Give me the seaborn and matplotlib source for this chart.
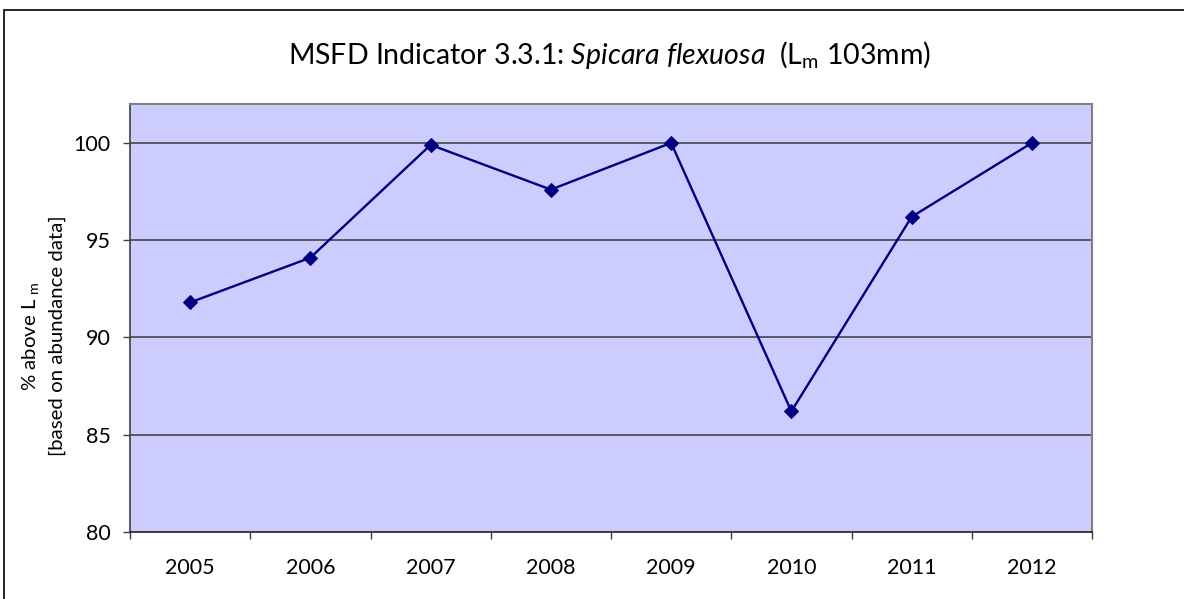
import numpy as np
import matplotlib
matplotlib.use("Agg")
import matplotlib.pyplot as plt
from matplotlib.lines import Line2D
import seaborn as sns

# Data
years = ["2005", "2006", "2007", "2008", "2009", "2010", "2011", "2012"]
pct_above_lm = [91.8, 94.1, 99.9, 97.6, 100.0, 86.2, 96.2, 100.0]
y_ticks = [80, 85, 90, 95, 100]

sns.set_theme(style="white")
plt.rcParams["font.family"] = ["Lato", "DejaVu Sans"]
plt.rcParams["mathtext.fontset"] = "custom"
plt.rcParams["mathtext.rm"] = "Lato"
plt.rcParams["mathtext.it"] = "Lato:italic"

fig = plt.figure(figsize=(11.84, 5.99), dpi=100)
W, H = 1184, 599
left, right, top, bottom = 130, 1092, 104, 532
ax = fig.add_axes([left / W, (H - bottom) / H, (right - left) / W, (bottom - top) / H])
ax.set_facecolor("#CCCCFF")

x = np.arange(len(years))
sns.lineplot(x=x, y=pct_above_lm, ax=ax, color="#000080", linewidth=1.7,
             marker="D", markersize=7.5, markeredgecolor="#000080", zorder=3)

ax.set_xlim(-0.5, len(years) - 0.5)
ax.set_ylim(80, 102)
ax.set_yticks(y_ticks)
ax.set_yticklabels([str(v) for v in y_ticks])
for v in y_ticks[1:]:
    ax.axhline(v, color="#3a3a3a", linewidth=1.1, zorder=1)

# Category ticks sit between the years; labels sit at the centres
ax.set_xticks(np.arange(-0.5, len(years)), minor=False)
ax.set_xticklabels([""] * (len(years) + 1))
ax.set_xticks(x, minor=True)
ax.set_xticklabels(years, minor=True)
ax.tick_params(axis="x", which="major", direction="out", length=5, width=1,
               color="#404040", bottom=True)
ax.tick_params(axis="x", which="minor", length=0, pad=19, labelsize=15.5,
               labelcolor="black", bottom=True)
ax.tick_params(axis="y", direction="out", length=5, width=1, color="#404040",
               left=True, pad=9, labelsize=15.5, labelcolor="black")

for side in ["top", "right"]:
    ax.spines[side].set_color("#808080")
    ax.spines[side].set_linewidth(1.5)
ax.spines["left"].set_color("#404040")
ax.spines["bottom"].set_color("#202020")
ax.spines["left"].set_linewidth(1.2)
ax.spines["bottom"].set_linewidth(1.2)

ax.set_xlabel("")
ax.set_ylabel("")

fig.text(610 / W, 1 - 55 / H,
         r"MSFD Indicator 3.3.1: $\mathit{Spicara\ flexuosa}$  (L$_\mathregular{m}$ 103mm)",
         ha="center", va="center", fontsize=20.5, color="black")

fig.text(43 / W, 1 - 336 / H,
         "% above L $_\\mathregular{m}$\n[based on abundance data]",
         rotation=90, ha="center", va="center", fontsize=14.7,
         linespacing=1.5, multialignment="center", color="black")

# Chart frame
fig.add_artist(Line2D([4 / W, 4 / W], [1 - 10 / H, -0.05], color="black",
                      linewidth=1.2, transform=fig.transFigure))
fig.add_artist(Line2D([4 / W, 1.05], [1 - 10 / H, 1 - 10 / H], color="black",
                      linewidth=1.2, transform=fig.transFigure))

fig.savefig("out.png", dpi=100, facecolor="white")
